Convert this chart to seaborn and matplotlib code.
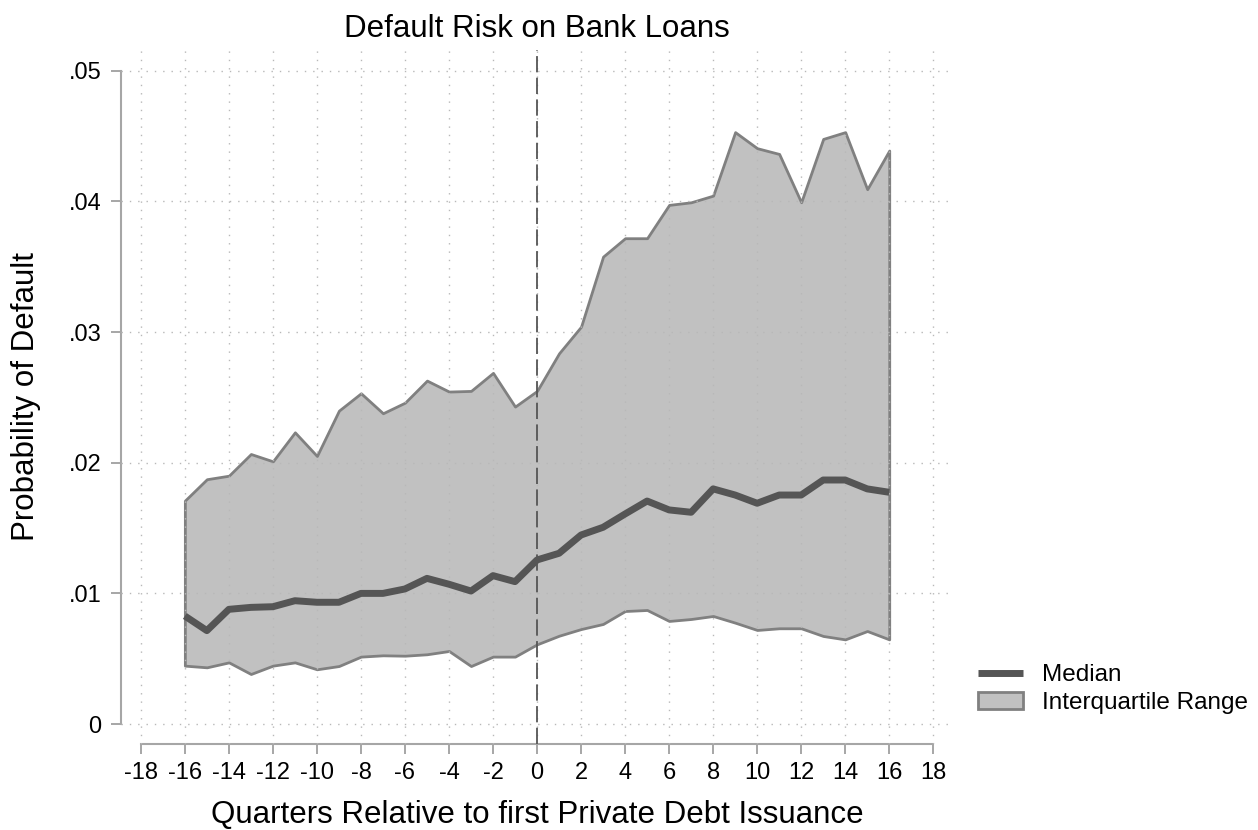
import numpy as np
import pandas as pd
import matplotlib
matplotlib.use('Agg')
import matplotlib.pyplot as plt
import seaborn as sns

sns.set_theme(style='white')
plt.rcParams['font.family'] = ['Liberation Sans', 'DejaVu Sans']
plt.rcParams['axes.unicode_minus'] = False
plt.rcParams['text.color'] = 'black'
plt.rcParams['axes.labelcolor'] = 'black'

quarters = list(range(-16, 17))

median = [0.00827, 0.00715, 0.00878, 0.00893, 0.00898, 0.00944, 0.00932, 0.00932,
          0.01000, 0.01000, 0.01034, 0.01115, 0.01070, 0.01018, 0.01136, 0.01090,
          0.01256, 0.01307, 0.01447, 0.01506, 0.01608, 0.01707, 0.01639, 0.01621,
          0.01800, 0.01753, 0.01690, 0.01753, 0.01753, 0.01868, 0.01868, 0.01800,
          0.01774]

p75 = [0.01710, 0.01874, 0.01901, 0.02067, 0.02011, 0.02233, 0.02052, 0.02399,
       0.02532, 0.02379, 0.02460, 0.02629, 0.02545, 0.02550, 0.02688, 0.02430,
       0.02550, 0.02838, 0.03042, 0.03578, 0.03719, 0.03719, 0.03974, 0.03994,
       0.04045, 0.04531, 0.04408, 0.04364, 0.03994, 0.04479, 0.04531, 0.04094,
       0.04390]

p25 = [0.00447, 0.00434, 0.00472, 0.00383, 0.00447, 0.00472, 0.00419, 0.00444,
       0.00516, 0.00526, 0.00523, 0.00534, 0.00559, 0.00444, 0.00516, 0.00516,
       0.00610, 0.00676, 0.00727, 0.00766, 0.00865, 0.00873, 0.00789, 0.00804,
       0.00827, 0.00776, 0.00720, 0.00733, 0.00733, 0.00674, 0.00648, 0.00712,
       0.00648]

xticks = list(range(-18, 19, 2))
yticks = [0, 0.01, 0.02, 0.03, 0.04, 0.05]
ytick_labels = ['0', '.01', '.02', '.03', '.04', '.05']

df = pd.DataFrame({'quarter': quarters, 'median': median, 'p25': p25, 'p75': p75})

fig = plt.figure(figsize=(12.58, 8.3), dpi=100)
ax = fig.add_axes([0.0962, 0.1036, 0.6614, 0.8362])

iqr = ax.fill_between(df['quarter'], df['p25'], df['p75'], facecolor='#c1c1c1',
                      edgecolor='#808080', linewidth=2.0, zorder=1,
                      label='Interquartile Range')
sns.lineplot(data=df, x='quarter', y='median', color='#555555', linewidth=5.0,
             ax=ax, zorder=3, label='Median', solid_capstyle='butt')
ax.axvline(0, color='#555555', linewidth=1.3, linestyle=(0, (9, 3)), zorder=3)

ax.set_xlim(-18.9, 18.9)
ax.set_ylim(-0.00153, 0.0516)
ax.set_xticks(xticks)
ax.set_yticks(yticks)
ax.set_yticklabels(ytick_labels)

ax.set_axisbelow(False)
ax.grid(True, color='#b8b8b8', linestyle=(0, (1, 5)), linewidth=1.0)

for side in ['top', 'right']:
    ax.spines[side].set_visible(False)
ax.spines['left'].set_bounds(0, 0.05)
ax.spines['bottom'].set_bounds(-18, 18)
for side in ['left', 'bottom']:
    ax.spines[side].set_color('#a6a6a6')
    ax.spines[side].set_linewidth(1.5)

ax.tick_params(axis='both', which='major', direction='out', length=7, width=1.4,
               color='#a6a6a6', labelsize=17, labelcolor='black',
               left=True, bottom=True)
ax.tick_params(axis='y', pad=7)
ax.tick_params(axis='x', pad=6)

ax.set_title('Default Risk on Bank Loans', fontsize=22.5, pad=9, color='black')
ax.set_xlabel('Quarters Relative to first Private Debt Issuance', fontsize=22.5)
ax.set_ylabel('Probability of Default', fontsize=22.5)
ax.xaxis.set_label_coords(0.5, -0.08)
ax.yaxis.set_label_coords(-0.096, 0.5)

handles, labels = ax.get_legend_handles_labels()
order = [labels.index('Median'), labels.index('Interquartile Range')]
ax.legend([handles[i] for i in order], [labels[i] for i in order],
          loc='center left', bbox_to_anchor=(1.03, 0.079), frameon=False,
          fontsize=17.5, borderpad=0, borderaxespad=0, handlelength=1.85,
          handletextpad=0.8, labelspacing=0.25)

fig.savefig('out.png', dpi=100)
